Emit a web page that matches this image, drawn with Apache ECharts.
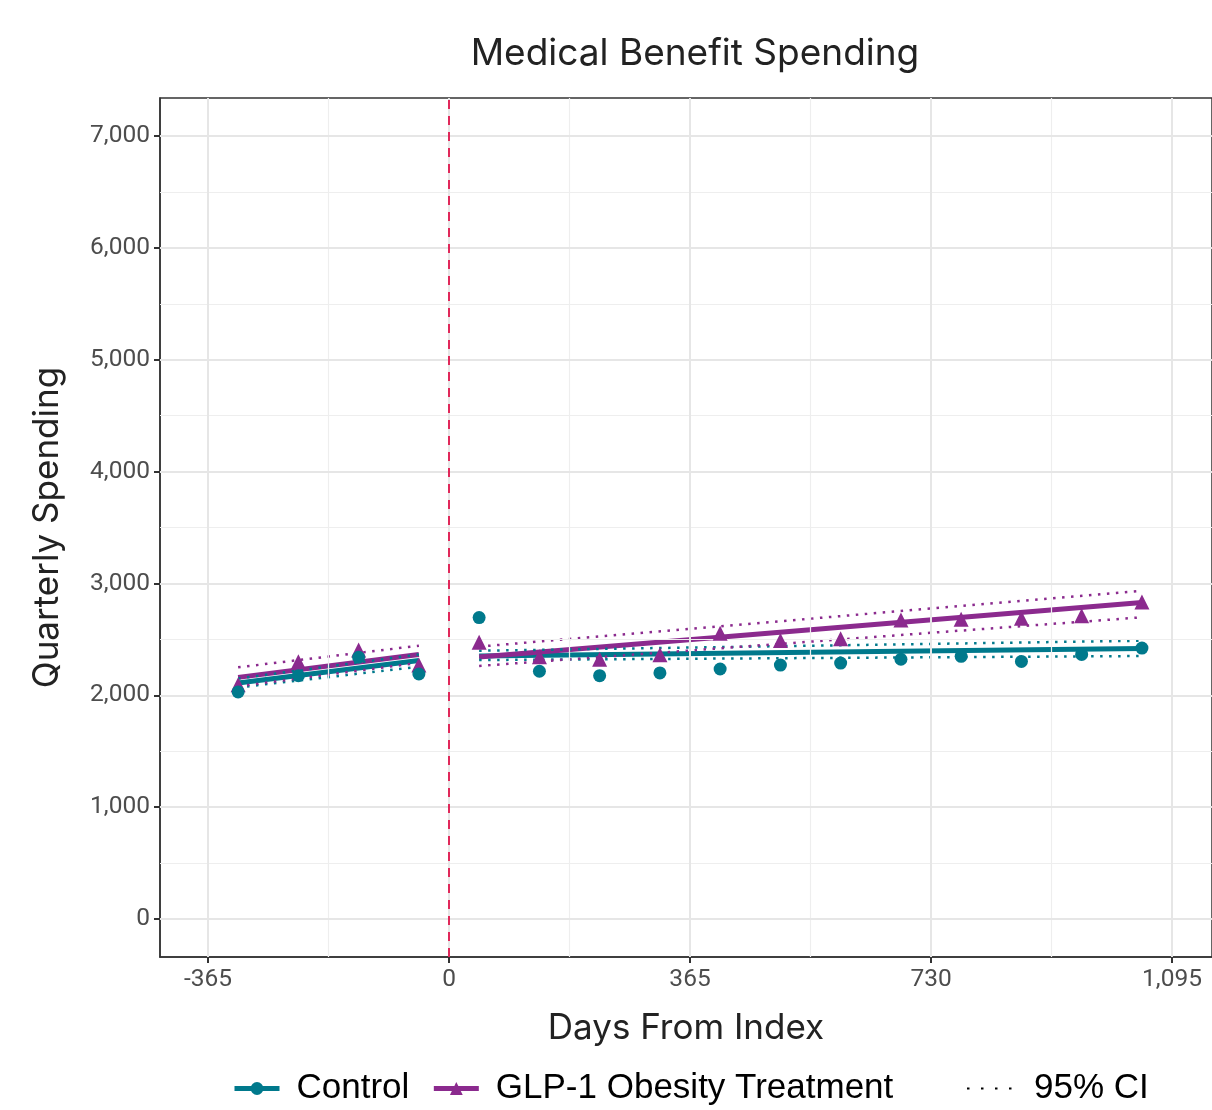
<!DOCTYPE html>
<html>
<head>
<meta charset="utf-8">
<script src="https://cdn.jsdelivr.net/npm/echarts@6/dist/echarts.min.js"></script>
<style>html,body{margin:0;padding:0;background:#fff}#c{width:1212px;height:1110px}</style>
</head>
<body>
<div id="c"></div>
<script>
// ---- data ----
const preDays = [-319.4, -228.1, -136.9, -45.6];
const postDays = [45.6, 136.9, 228.1, 319.4, 410.6, 501.9, 593.1, 684.4, 775.6, 866.9, 958.1, 1049.4];
const controlPre = [2030, 2175, 2340, 2190];
const glpPre = [2095, 2300, 2405, 2270];
const controlPost = [2695, 2215, 2175, 2200, 2235, 2270, 2288, 2322, 2348, 2303, 2365, 2422];
const glpPost = [2475, 2345, 2322, 2362, 2554, 2490, 2505, 2672, 2680, 2688, 2710, 2835];
// fitted lines: [value at first day, value at last day] of each period
const controlFitPre = [2110, 2310];
const glpFitPre = [2160, 2365];
const controlFitPost = [2352, 2418];
const glpFitPost = [2342, 2830];
// 95% CI bounds
const controlCiPreLow = [2070, 2255], controlCiPreHigh = [2150, 2365];
const glpCiPreLow = [2080, 2290], glpCiPreHigh = [2250, 2443];
const controlCiPostLow = [2315, 2351], controlCiPostHigh = [2398, 2488];
const glpCiPostLow = [2262, 2697], glpCiPostHigh = [2435, 2935];
// axis ticks
const xTicks = [-365, 0, 365, 730, 1095];
const xMinor = [-182.5, 182.5, 547.5, 912.5];
const yTicks = [0, 1000, 2000, 3000, 4000, 5000, 6000, 7000];
const yMinor = [500, 1500, 2500, 3500, 4500, 5500, 6500];
const indexDay = 0;

const TEAL = '#00798c', PURPLE = '#8b2a8e', RED = '#e0285a';
const tickFont = 'Roboto, sans-serif';
const titleFont = 'Inter, Lato, sans-serif';
const legendFont = '"Liberation Sans", Arial, sans-serif';

function seg(days, vals) { return [[days[0], vals[0]], [days[days.length - 1], vals[1]]]; }
function fitLine(name, color, days, vals) {
  return { type: 'line', name: name, data: seg(days, vals), symbol: 'none', z: 3,
    lineStyle: { color: color, width: 5 }, silent: true, animation: false };
}
function ciLine(name, color, days, vals) {
  return { type: 'line', name: name, data: seg(days, vals), symbol: 'none', z: 4,
    lineStyle: { color: color, width: 2.5, type: [2.5, 6.5] }, silent: true, animation: false };
}
function pts(days, vals) { return days.map((d, i) => [d, vals[i]]); }

const gridLines = [];
xMinor.forEach(v => gridLines.push({ xAxis: v, lineStyle: { color: '#eeeeee', width: 1.2, type: 'solid' } }));
yMinor.forEach(v => gridLines.push({ yAxis: v, lineStyle: { color: '#eeeeee', width: 1.2, type: 'solid' } }));
xTicks.forEach(v => gridLines.push({ xAxis: v, lineStyle: { color: '#e6e6e6', width: 2, type: 'solid' } }));
yTicks.forEach(v => gridLines.push({ yAxis: v, lineStyle: { color: '#e6e6e6', width: 2, type: 'solid' } }));

const chart = echarts.init(document.getElementById('c'), null, { renderer: 'canvas' });
chart.setOption({
  animation: false,
  backgroundColor: '#ffffff',
  title: { text: 'Medical Benefit Spending', left: 690, top: 30, textAlign: 'center',
    textStyle: { fontFamily: titleFont, fontSize: 37, fontWeight: 'normal', color: '#222' } },
  grid: { left: 160, right: 0, top: 98, bottom: 153, show: true, borderColor: '#333', borderWidth: 1.5, containLabel: false },
  legend: [
    { data: ['Control', 'GLP-1 Obesity Treatment'], left: 227, top: 1066, itemWidth: 45, itemHeight: 16, itemGap: 22,
      lineStyle: { width: 5 },
      textStyle: { fontFamily: legendFont, fontSize: 35, color: '#000', padding: [0, 0, 0, 12] } },
    { data: ['95% CI'], left: 961, top: 1066, itemWidth: 45, itemHeight: 16,
      itemStyle: { color: 'rgba(0,0,0,0)', borderWidth: 0 },
      textStyle: { fontFamily: legendFont, fontSize: 35, color: '#000', padding: [0, 0, 0, 17] } }
  ],
  xAxis: { type: 'value', min: -437.7, max: 1155.5,
    name: 'Days From Index', nameLocation: 'middle', nameGap: 54,
    nameTextStyle: { fontFamily: titleFont, fontSize: 35, color: '#222' },
    axisLine: { show: true, onZero: false, lineStyle: { color: '#333', width: 1.5 } },
    axisTick: { show: true, length: 6, customValues: xTicks, lineStyle: { color: '#333', width: 2 } },
    axisLabel: { customValues: xTicks, margin: 10, fontFamily: tickFont, fontSize: 24.5, color: '#4d4d4d',
      formatter: v => v.toLocaleString('en-US') },
    splitLine: { show: false } },
  yAxis: { type: 'value', min: -340, max: 7340,
    name: 'Quarterly Spending', nameLocation: 'middle', nameGap: 95, nameRotate: 90,
    nameTextStyle: { fontFamily: titleFont, fontSize: 35, color: '#222' },
    axisLine: { show: true, onZero: false, lineStyle: { color: '#333', width: 1.5 } },
    axisTick: { show: true, length: 6, customValues: yTicks, lineStyle: { color: '#333', width: 2 } },
    axisLabel: { customValues: yTicks, margin: 10, fontFamily: tickFont, fontSize: 24.5, color: '#4d4d4d',
      formatter: v => v.toLocaleString('en-US') },
    splitLine: { show: false } },
  series: [
    { type: 'line', name: 'gridlines', data: [], z: 1, silent: true,
      markLine: { silent: true, symbol: 'none', label: { show: false }, animation: false, data: gridLines } },
    { type: 'line', name: 'index', data: [], z: 2, silent: true,
      markLine: { silent: true, symbol: 'none', label: { show: false }, animation: false,
        data: [{ xAxis: indexDay, lineStyle: { color: RED, width: 2, type: [9, 7] } }] } },
    fitLine('ctlFitPre', TEAL, preDays, controlFitPre),
    fitLine('glpFitPre', PURPLE, preDays, glpFitPre),
    fitLine('ctlFitPost', TEAL, postDays, controlFitPost),
    fitLine('glpFitPost', PURPLE, postDays, glpFitPost),
    ciLine('ctlCiPreL', TEAL, preDays, controlCiPreLow),
    ciLine('ctlCiPreH', TEAL, preDays, controlCiPreHigh),
    ciLine('glpCiPreL', PURPLE, preDays, glpCiPreLow),
    ciLine('glpCiPreH', PURPLE, preDays, glpCiPreHigh),
    ciLine('ctlCiPostL', TEAL, postDays, controlCiPostLow),
    ciLine('ctlCiPostH', TEAL, postDays, controlCiPostHigh),
    ciLine('glpCiPostL', PURPLE, postDays, glpCiPostLow),
    ciLine('glpCiPostH', PURPLE, postDays, glpCiPostHigh),
    { type: 'scatter', name: 'glpPts', data: pts(preDays, glpPre).concat(pts(postDays, glpPost)), symbol: 'triangle',
      symbolSize: 15, z: 5, itemStyle: { color: PURPLE, opacity: 1 }, silent: true },
    { type: 'scatter', name: 'ctlPts', data: pts(preDays, controlPre).concat(pts(postDays, controlPost)), symbol: 'circle',
      symbolSize: 13, z: 6, itemStyle: { color: TEAL, opacity: 1 }, silent: true },
    // legend-only series
    { type: 'line', name: 'Control', data: [], symbol: 'circle', symbolSize: 14, itemStyle: { color: TEAL }, lineStyle: { color: TEAL, width: 5 } },
    { type: 'line', name: 'GLP-1 Obesity Treatment', data: [], symbol: 'triangle', symbolSize: 15, itemStyle: { color: PURPLE }, lineStyle: { color: PURPLE, width: 5 } },
    { type: 'line', name: '95% CI', data: [], symbol: 'none', itemStyle: { color: '#000' }, lineStyle: { color: '#000', width: 2.5, type: [2.5, 11.5] } }
  ]
});
</script>
</body>
</html>
